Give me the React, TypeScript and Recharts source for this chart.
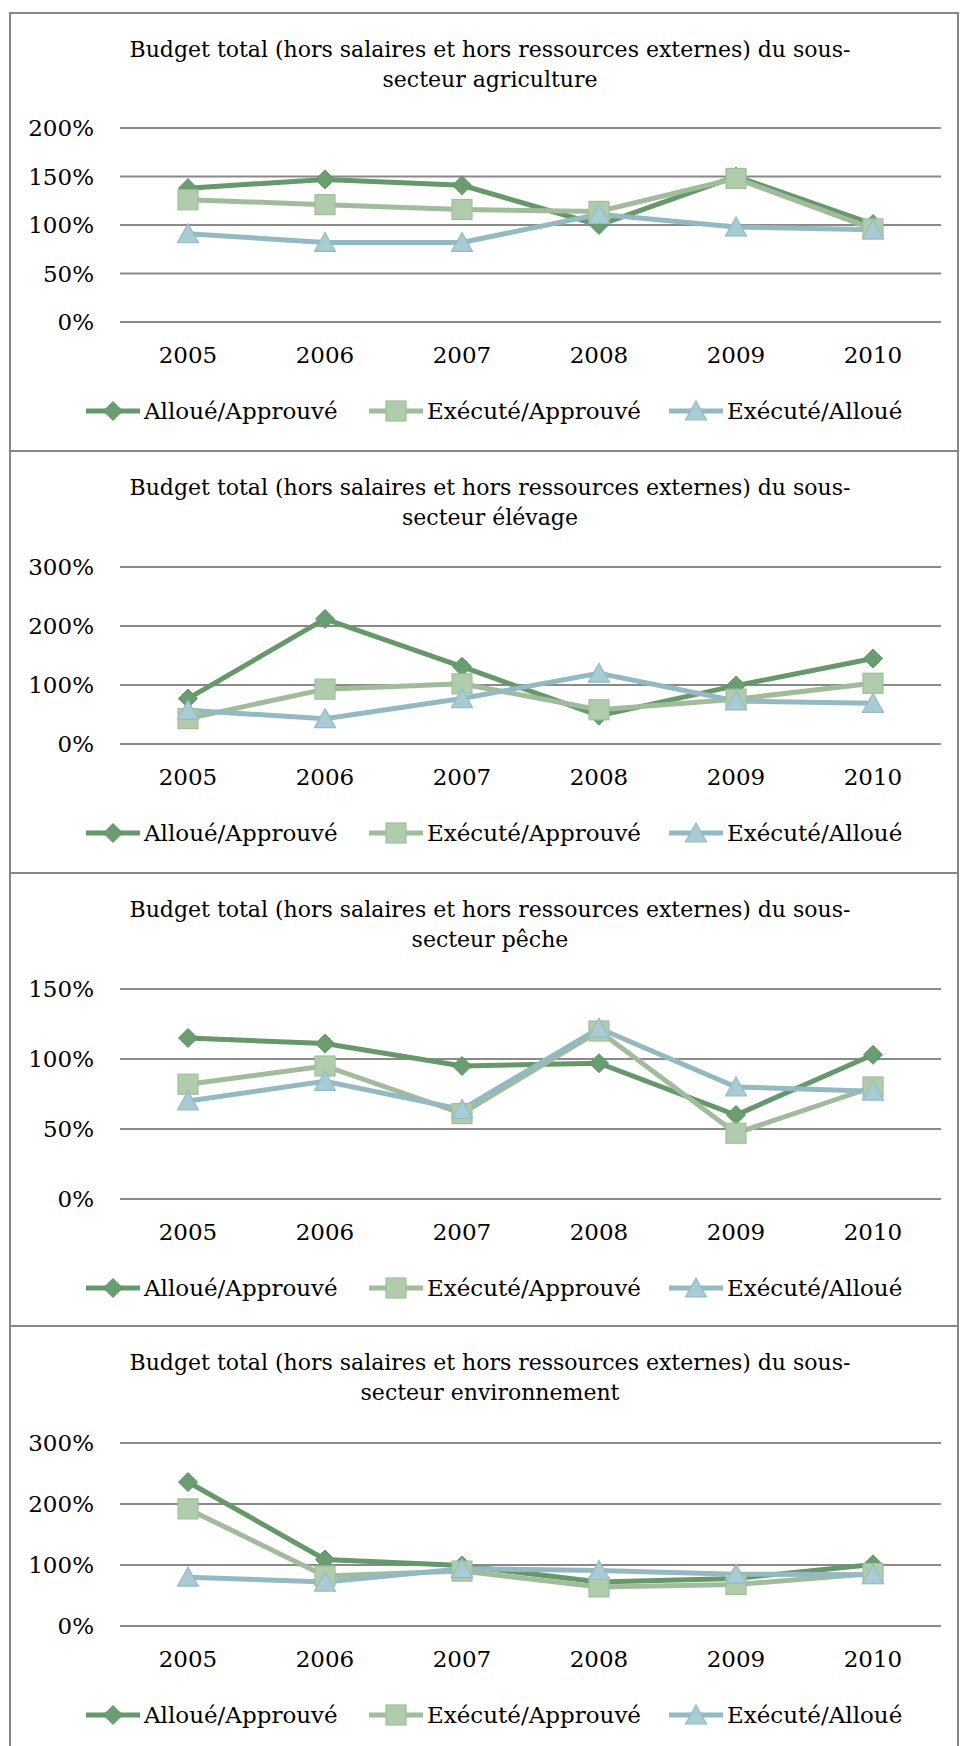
import React from 'react';
import { LineChart, Line, XAxis, YAxis, CartesianGrid } from 'recharts';

// catégories et séries
const YEARS = ['2005', '2006', '2007', '2008', '2009', '2010'];
const SERIES_NAMES = ['Alloué/Approuvé', 'Exécuté/Approuvé', 'Exécuté/Alloué'];

const agriAlloueApprouve = [138, 147, 141, 100, 150, 101];
const agriExecuteApprouve = [126, 121, 116, 114, 148, 96];
const agriExecuteAlloue = [91, 82, 82, 111, 98, 95];

const elevAlloueApprouve = [77, 212, 131, 48, 99, 145];
const elevExecuteApprouve = [43, 93, 102, 58, 76, 103];
const elevExecuteAlloue = [57, 43, 77, 120, 73, 69];

const pecheAlloueApprouve = [115, 111, 95, 97, 60, 103];
const pecheExecuteApprouve = [82, 95, 61, 120, 47, 80];
const pecheExecuteAlloue = [70, 84, 64, 122, 80, 77];

const envAlloueApprouve = [236, 109, 99, 72, 78, 101];
const envExecuteApprouve = [192, 82, 90, 64, 68, 86];
const envExecuteAlloue = [80, 72, 94, 91, 85, 84];

const TICKS_200 = [0, 50, 100, 150, 200];
const TICKS_300 = [0, 100, 200, 300];
const TICKS_150 = [0, 50, 100, 150];

const TITLE_LINE1 = 'Budget total (hors salaires et hors ressources externes) du sous-';

const FONT = 'DejaVu Serif';
const GRID = '#8a8a8a';
const BORDER = '#878787';

const STYLES = [
  { key: 'a', shape: 'diamond', line: '#66986b', fill: '#6a9d70', stroke: '#5f9165' },
  { key: 'b', shape: 'square', line: '#a0bc9b', fill: '#b0ccac', stroke: '#9fbf9a' },
  { key: 'c', shape: 'triangle', line: '#94b9c3', fill: '#a8cbd4', stroke: '#93bcc7' },
];

const buildRows = (a: number[], b: number[], c: number[]) =>
  YEARS.map((year, i) => ({ year, a: a[i], b: b[i], c: c[i] }));

const PANELS = [
  { sub: 'secteur agriculture', top: 13, plotTop: 115, plotH: 194, ticks: TICKS_200,
    rows: buildRows(agriAlloueApprouve, agriExecuteApprouve, agriExecuteAlloue) },
  { sub: 'secteur élévage', top: 451, plotTop: 116, plotH: 177, ticks: TICKS_300,
    rows: buildRows(elevAlloueApprouve, elevExecuteApprouve, elevExecuteAlloue) },
  { sub: 'secteur pêche', top: 873, plotTop: 116, plotH: 210, ticks: TICKS_150,
    rows: buildRows(pecheAlloueApprouve, pecheExecuteApprouve, pecheExecuteAlloue) },
  { sub: 'secteur environnement', top: 1326, plotTop: 117, plotH: 183, ticks: TICKS_300,
    rows: buildRows(envAlloueApprouve, envExecuteApprouve, envExecuteAlloue) },
];

const Marker = ({ cx, cy, shape, fill, stroke }: any) => {
  if (cx == null || cy == null) return null;
  if (shape === 'diamond') {
    return (
      <polygon
        points={`${cx},${cy - 9.5} ${cx + 9.5},${cy} ${cx},${cy + 9.5} ${cx - 9.5},${cy}`}
        fill={fill} stroke={stroke} strokeWidth={1}
      />
    );
  }
  if (shape === 'square') {
    return <rect x={cx - 10} y={cy - 10} width={20} height={20} fill={fill} stroke={stroke} strokeWidth={1.2} />;
  }
  return (
    <polygon
      points={`${cx},${cy - 10} ${cx + 10.5},${cy + 9} ${cx - 10.5},${cy + 9}`}
      fill={fill} stroke={stroke} strokeWidth={1.2}
    />
  );
};

const LEGEND_LEFT = [85, 368, 668];

const LegendRow = ({ top }: { top: number }) => (
  <>
    {STYLES.map((s, i) => (
      <div key={s.key} style={{ position: 'absolute', left: LEGEND_LEFT[i], top: top - 14, height: 28, display: 'flex', alignItems: 'center' }}>
        <svg width={57} height={28}>
          <line x1={1} y1={14} x2={55} y2={14} stroke={s.line} strokeWidth={5} />
          <Marker cx={28} cy={14} shape={s.shape} fill={s.fill} stroke={s.stroke} />
        </svg>
        <span style={{ marginLeft: 2, fontFamily: FONT, fontSize: 23, color: '#000', whiteSpace: 'nowrap' }}>
          {SERIES_NAMES[i]}
        </span>
      </div>
    ))}
  </>
);

const Panel = ({ p }: any) => {
  const max = p.ticks[p.ticks.length - 1];
  const xAxisH = 60;
  const height = p.plotTop + p.plotH + xAxisH;
  return (
    <div style={{ position: 'absolute', left: 0, top: p.top, width: 960, height: 440 }}>
      <div style={{ position: 'absolute', left: 0, top: 22, width: 980, textAlign: 'center', fontFamily: FONT, fontSize: 22, lineHeight: '30px', color: '#000' }}>
        <div>{TITLE_LINE1}</div>
        <div>{p.sub}</div>
      </div>
      <div style={{ position: 'absolute', left: 0, top: 0 }}>
        <LineChart
          width={960}
          height={height}
          data={p.rows}
          margin={{ top: p.plotTop, right: 19, left: 20, bottom: 0 }}
        >
          <CartesianGrid vertical={false} stroke={GRID} strokeWidth={2} />
          <XAxis
            dataKey="year"
            axisLine={false}
            tickLine={false}
            tickSize={0}
            tickMargin={25}
            height={xAxisH}
            interval={0}
            padding={{ left: 68, right: 68 }}
            tick={{ fontSize: 23, fontFamily: FONT, fill: '#000' }}
          />
          <YAxis
            domain={[0, max]}
            ticks={p.ticks}
            axisLine={false}
            tickLine={false}
            tickSize={0}
            tickMargin={26}
            width={100}
            tickFormatter={(v: number) => `${v}%`}
            tick={{ fontSize: 23, fontFamily: FONT, fill: '#000' }}
          />
          {STYLES.map((s, i) => (
            <Line
              key={s.key}
              dataKey={s.key}
              name={SERIES_NAMES[i]}
              type="linear"
              stroke={s.line}
              strokeWidth={5}
              isAnimationActive={false}
              dot={(props: any) => (
                <Marker key={`${s.key}-${props.index}`} cx={props.cx} cy={props.cy} shape={s.shape} fill={s.fill} stroke={s.stroke} />
              )}
              activeDot={false}
            />
          ))}
        </LineChart>
      </div>
      <LegendRow top={p.plotTop + p.plotH + 89} />
    </div>
  );
};

export default function App() {
  return (
    <div style={{ position: 'absolute', left: 0, top: 0, width: 960, height: 1746, overflow: 'hidden', background: '#fff' }}>
      {PANELS.map((p) => (
        <Panel key={p.sub} p={p} />
      ))}
      {/* cadres des panneaux */}
      {PANELS.map((p) => (
        <div key={`h-${p.sub}`} style={{ position: 'absolute', left: 9, top: p.top - 1, width: 950, height: 2, background: BORDER }} />
      ))}
      <div style={{ position: 'absolute', left: 9, top: 12, width: 2, height: 1734, background: BORDER }} />
      <div style={{ position: 'absolute', left: 957, top: 12, width: 2, height: 1734, background: BORDER }} />
    </div>
  );
}
